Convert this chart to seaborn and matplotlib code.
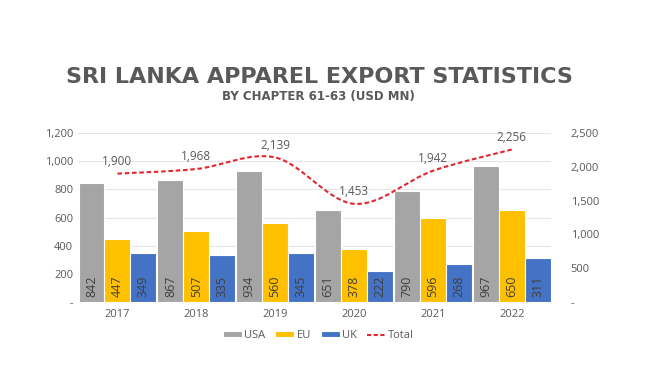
import numpy as np
import pandas as pd
import seaborn as sns
from matplotlib import pyplot as plt
from matplotlib.path import Path
from matplotlib.patches import PathPatch
from matplotlib.lines import Line2D
from matplotlib.ticker import FuncFormatter

# data
years = ['2017', '2018', '2019', '2020', '2021', '2022']
usa = [842, 867, 934, 651, 790, 967]
eu = [447, 507, 560, 378, 596, 650]
uk = [349, 335, 345, 222, 268, 311]
total = [1900, 1968, 2139, 1453, 1942, 2256]
markets = ['USA', 'EU', 'UK']

colors = {'USA': '#A5A5A5', 'EU': '#FFC000', 'UK': '#4472C4'}
red = '#E3262E'
txt = '#595959'

df = pd.DataFrame({'year': years * 3,
                   'market': ['USA'] * 6 + ['EU'] * 6 + ['UK'] * 6,
                   'value': usa + eu + uk})

sns.set_style('white')
plt.rcParams['font.family'] = ['Open Sans', 'DejaVu Sans']

fig = plt.figure(figsize=(6.5, 3.84), dpi=100)
ax = fig.add_axes([0.12, 0.2135, 0.728, 0.44])

sns.barplot(data=df, x='year', y='value', hue='market', hue_order=markets,
            palette=colors, width=0.985, gap=0, edgecolor='white', linewidth=0.8,
            saturation=1, ax=ax, legend=True)

# value labels rotated inside bars
for cont in ax.containers:
    for bar in cont:
        h = bar.get_height()
        ax.text(bar.get_x() + bar.get_width() / 2, 36, f'{int(round(h))}',
                rotation=90, ha='center', va='bottom', fontsize=9, color='#404040')

ax.set_ylim(0, 1200)
ax.set_yticks(range(0, 1201, 200))
fmt = FuncFormatter(lambda v, p: '-' if v == 0 else f'{int(v):,}')
ax.yaxis.set_major_formatter(fmt)
ax.grid(axis='y', color='#E6E6E6', linewidth=0.8)
ax.set_axisbelow(True)
ax.set_xlabel('')
ax.set_ylabel('')
ax.tick_params(axis='both', length=0, labelsize=8, labelcolor=txt)
ax.tick_params(axis='x', pad=5)
for s in ax.spines.values():
    s.set_visible(False)

# total on the secondary axis, smoothed like the original
ax2 = ax.twinx()
ax2.set_ylim(0, 2500)
ax2.set_yticks(range(0, 2501, 500))
ax2.yaxis.set_major_formatter(fmt)
ax2.tick_params(axis='y', length=0, labelsize=8, labelcolor=txt, pad=14)
for s in ax2.spines.values():
    s.set_visible(False)

xs = np.arange(len(years), dtype=float)
pts = np.column_stack([xs, total])
ext = np.vstack([pts[0], pts, pts[-1]])
verts = [tuple(pts[0])]
codes = [Path.MOVETO]
for i in range(len(pts) - 1):
    p0, p1, p2, p3 = ext[i], ext[i + 1], ext[i + 2], ext[i + 3]
    c1 = p1 + (p2 - p0) / 6
    c2 = p2 - (p3 - p1) / 6
    verts += [tuple(c1), tuple(c2), tuple(p2)]
    codes += [Path.CURVE4] * 3
ax2.add_patch(PathPatch(Path(verts, codes), fill=False, edgecolor=red,
                        linewidth=1.5, linestyle=(0, (2.2, 1.3))))

for x, t in zip(xs, total):
    ax2.annotate(f'{t:,}', (x, t), xytext=(0, 4), textcoords='offset points',
                 ha='center', va='bottom', fontsize=8.5, color=txt)

handles, labels = ax.get_legend_handles_labels()
ax.get_legend().remove()
handles.append(Line2D([], [], color=red, linewidth=1.5, linestyle=(0, (2, 1.2))))
labels.append('Total')
fig.legend(handles, labels, loc='center', bbox_to_anchor=(0.49, 0.126), ncol=4,
           frameon=False, fontsize=8, labelcolor=txt, handlelength=1.7,
           handleheight=0.5, handletextpad=0.2, columnspacing=0.9)

fig.text(0.492, 0.80, 'SRI LANKA APPAREL EXPORT STATISTICS', ha='center', va='center',
         fontsize=16, fontweight='bold', color=txt, family='DejaVu Sans')
fig.text(0.49, 0.748, 'BY CHAPTER 61-63 (USD MN)', ha='center', va='center',
         fontsize=8.5, fontweight='bold', color=txt, family='DejaVu Sans')

fig.savefig('out.png', dpi=100)
